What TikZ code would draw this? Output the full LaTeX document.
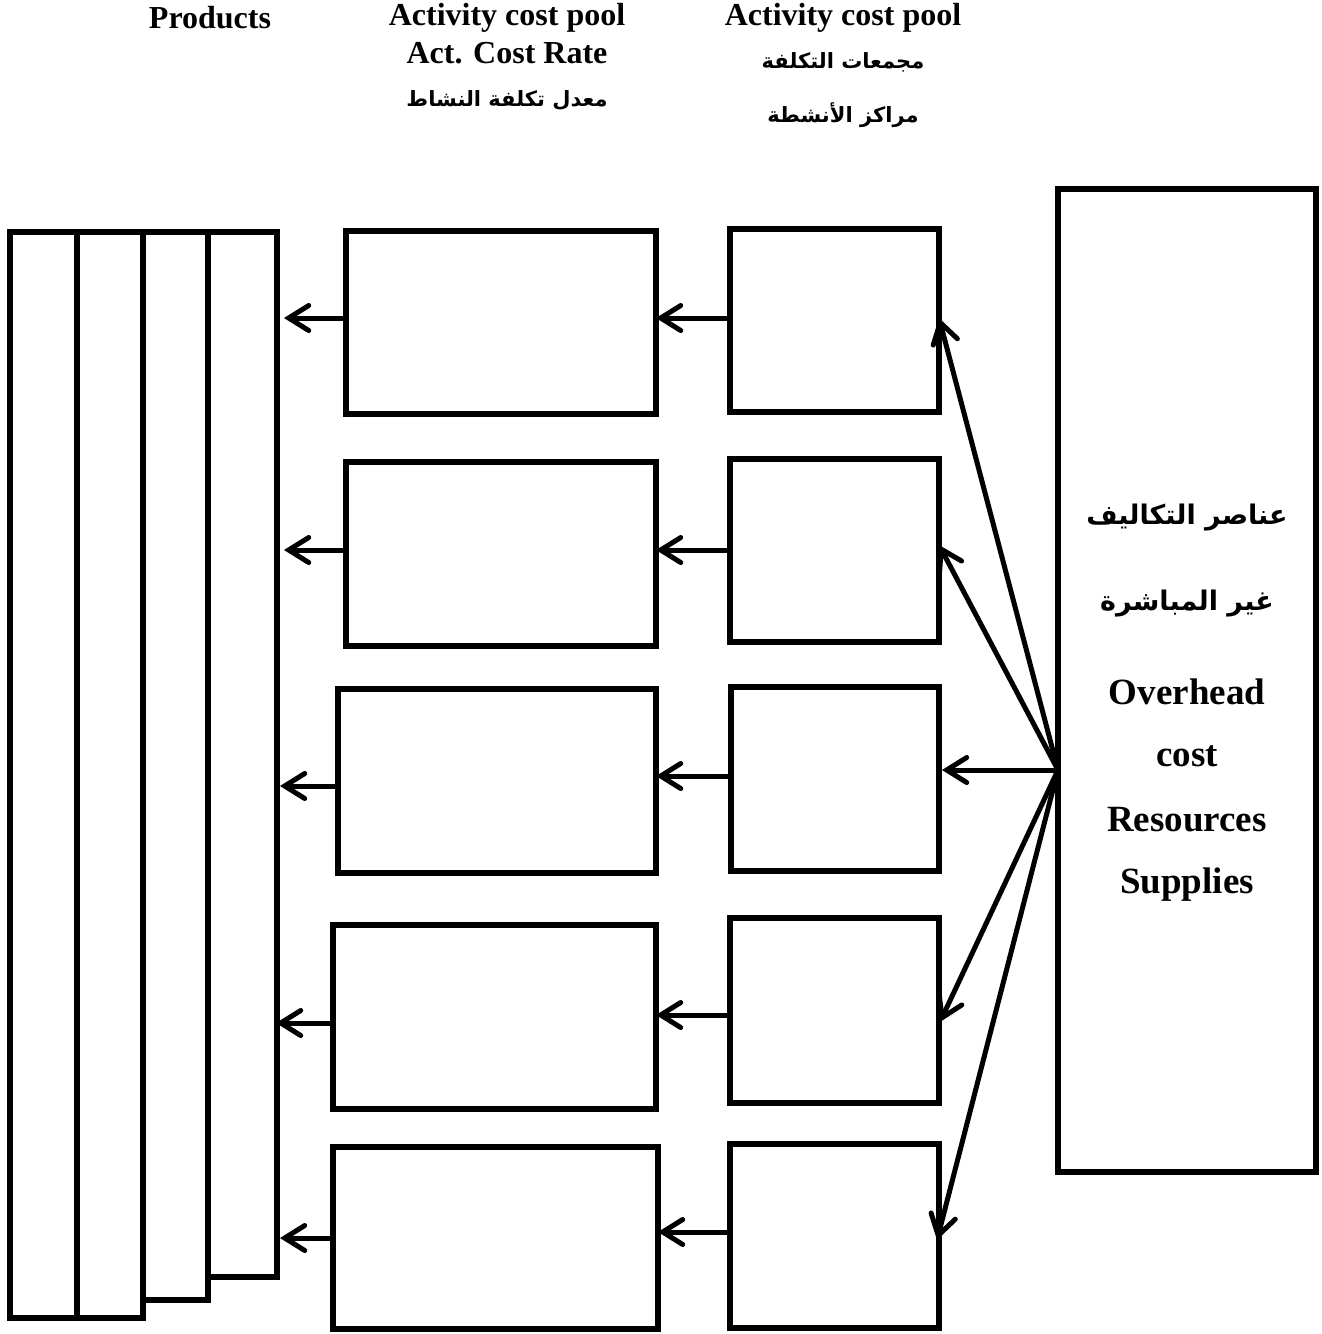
\documentclass[tikz,border=0pt]{standalone}
\usepackage{fontspec}
\setmainfont{Liberation Serif}
\newfontfamily\arabicfont[Script=Arabic]{DejaVu Sans}
\TeXXeTstate=1
\usetikzlibrary{arrows.meta}
\begin{document}
\begin{tikzpicture}[x=1pt,y=-1pt,
  box/.style={draw, line width=5.5pt, inner sep=0pt, outer sep=0pt, anchor=north west},
  arr/.style={-{Straight Barb[length=20pt,width=25pt,line cap=round]}, line width=5pt, line cap=round},
  hd/.style={font=\fontsize{32}{34}\selectfont\bfseries, inner sep=0pt},
  bigen/.style={font=\fontsize{37}{39}\selectfont\bfseries, inner sep=0pt},
  ar/.style={font=\arabicfont\fontsize{21}{23}\selectfont\bfseries, inner sep=0pt},
  bigar/.style={font=\arabicfont\fontsize{27}{29}\selectfont\bfseries, inner sep=0pt}]
\useasboundingbox (0,0) rectangle (1322,1334);

% products
\node[box, minimum width=67pt, minimum height=1086pt] (p1) at (10,232) {};
\node[box, minimum width=66pt, minimum height=1086pt] (p2) at (77,232) {};
\node[box, minimum width=65pt, minimum height=1068pt] (p3) at (143,232) {};
\node[box, minimum width=69pt, minimum height=1045pt] (p4) at (208,232) {};

% rates
\node[box, minimum width=310pt, minimum height=183pt] (r1) at (346,231) {};
\node[box, minimum width=310pt, minimum height=184pt] (r2) at (346,462) {};
\node[box, minimum width=318pt, minimum height=184pt] (r3) at (338,689) {};
\node[box, minimum width=323pt, minimum height=184pt] (r4) at (333,925) {};
\node[box, minimum width=325pt, minimum height=182pt] (r5) at (333,1147) {};

% pools
\node[box, minimum width=209pt, minimum height=183pt] (c1) at (730,229) {};
\node[box, minimum width=209pt, minimum height=183pt] (c2) at (730,459) {};
\node[box, minimum width=208pt, minimum height=184pt] (c3) at (731,687) {};
\node[box, minimum width=209pt, minimum height=185pt] (c4) at (730,918) {};
\node[box, minimum width=209pt, minimum height=184pt] (c5) at (730,1144) {};

% big box
\node[box, minimum width=258pt, minimum height=983pt] (big) at (1058,189) {};
\coordinate (hub) at (big.west |- 0,770);

% pool -> rate
\draw[arr] (c1.west |- 0,318) -- (r1.east |- 0,318);
\draw[arr] (c2.west |- 0,550) -- (r2.east |- 0,550);
\draw[arr] (c3.west |- 0,776) -- (r3.east |- 0,776);
\draw[arr] (c4.west |- 0,1015) -- (r4.east |- 0,1015);
\draw[arr] (c5.west |- 0,1232) -- (r5.east |- 0,1232);

% rate -> products
\draw[arr] (r1.west |- 0,318) -- ([xshift=7pt]p4.east |- 0,318);
\draw[arr] (r2.west |- 0,550) -- ([xshift=7pt]p4.east |- 0,550);
\draw[arr] (r3.west |- 0,786) -- ([xshift=3pt]p4.east |- 0,786);
\draw[arr] (r4.west |- 0,1023) -- ([xshift=-1pt]p4.east |- 0,1023);
\draw[arr] (r5.west |- 0,1238) -- ([xshift=3pt]p4.east |- 0,1238);

% big -> pools
\draw[arr] (hub) -- (c1.east |- 0,318);
\draw[arr] (hub) -- (c2.east |- 0,545);
\draw[arr] (hub) -- ([xshift=3pt]c3.east |- 0,770);
\draw[arr] (hub) -- ([xshift=1pt]c4.east |- 0,1022);
\draw[arr] (hub) -- ([xshift=-2pt]c5.east |- 0,1240);

% headers
\node[hd] (t1) at (210,18) {Products};
\node[hd] (t2) at (507,18) {Activity cost pool};
\node[hd] (t3) at (507,53) {Act. Cost Rate};
\node[ar] (t4) at (507,100) {\beginR معدل تكلفة النشاط\endR};
\node[hd] (t5) at (843,18) {Activity cost pool};
\node[ar] (t6) at (843,62) {\beginR مجمعات التكلفة\endR};
\node[ar] (t7) at (843,115) {\beginR مراكز الأنشطة\endR};

% big box text
\node[bigar] (b1) at (1187,518) {\beginR عناصر التكاليف\endR};
\node[bigar] (b2) at (1187,604) {\beginR غير المباشرة\endR};
\node[bigen] (b3) at (1187,692) {Overhead};
\node[bigen] (b4) at (1187,756) {cost};
\node[bigen] (b5) at (1187,820) {Resources};
\node[bigen] (b6) at (1187,885) {Supplies};
\end{tikzpicture}
\end{document}
